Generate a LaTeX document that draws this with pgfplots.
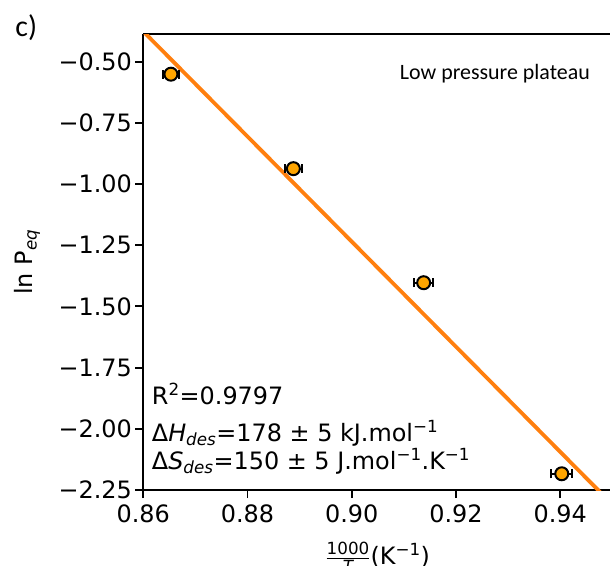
\documentclass[border=0pt]{standalone}
\usepackage{fontspec}
\usepackage{amsmath}
\usepackage{pgfplots}
\pgfplotsset{compat=1.18}
\setmainfont{DejaVu Sans}
\newfontfamily\carlito{Carlito}
\definecolor{fitorange}{HTML}{FF7F0E}
\definecolor{ptorange}{HTML}{FFA500}
\pgfplotstableread{
x y ex
0.8653 -0.5510 0.0015
0.8888 -0.9370 0.0016
0.9138 -1.4030 0.00186
0.9403 -2.1837 0.0020
}\pts
\begin{document}
\begin{tikzpicture}
\begin{axis}[
  at={(0,0)}, anchor=south west, scale only axis,
  width=469bp, height=455.7bp,
  xmin=0.86, xmax=0.95, ymin=-2.25, ymax=-0.388,
  axis x line*=box, axis y line*=left,
  xtick={0.86,0.88,0.90,0.92,0.94},
  xticklabels={0.86,0.88,0.90,0.92,0.94},
  ytick={-2.25,-2,-1.75,-1.5,-1.25,-1,-0.75,-0.5},
  yticklabels={−2.25,−2.00,−1.75,−1.50,−1.25,−1.00,−0.75,−0.50},
  xtick pos=bottom, ytick pos=left, tick align=outside,
  major tick length=8bp,
  every tick/.style={black, line width=1.9bp},
  axis line style={black, line width=1.9bp},
  ticklabel style={font=\fontsize{24}{28}\selectfont},
  xticklabel style={yshift=-3.5bp},
  xlabel={$\tfrac{\text{1000}}{\text{\itshape T}}$(K\textsuperscript{−1})},
  ylabel={ln P\textsubscript{\textit{eq}}},
  every axis x label/.style={at={(rel axis cs:0.5,0)}, yshift=-67.5bp, anchor=center, inner sep=0pt, font=\fontsize{24}{28}\selectfont},
  every axis y label/.style={at={(rel axis cs:-0.2473,0.5)}, rotate=90, anchor=center, inner sep=0pt, font=\fontsize{24}{28}\selectfont},
]
\addplot[fitorange, line width=3.8bp] coordinates {(0.855,-0.2689) (0.955,-2.416)};
\addplot[only marks, mark=*, mark size=6.5bp,
  mark options={fill=ptorange, draw=black, line width=2bp},
  error bars/.cd, x dir=both, x explicit,
  error bar style={black, line width=2bp},
  error mark options={black, line width=2bp, mark size=4.5bp, rotate=90}]
  table[x=x, y=y, x error=ex] {\pts};
\end{axis}
\node[anchor=base west, inner sep=0pt, font=\carlito\fontsize{30}{34}\selectfont] at (-128bp,453bp) {c)};
\node[anchor=base east, inner sep=0pt, font=\carlito\fontsize{22}{26}\selectfont] at (446.7bp,410.7bp) {Low pressure plateau};
\node[anchor=base west, inner sep=0pt, font=\fontsize{24}{28}\selectfont] at (8.4bp,85.7bp) {R\textsuperscript{2}=0.9797};
\node[anchor=base west, inner sep=0pt, font=\fontsize{24}{28}\selectfont] at (8.4bp,48.3bp) {Δ\textit{H}\textsubscript{\textit{des}}=178 ± 5 kJ.mol\textsuperscript{−1}};
\node[anchor=base west, inner sep=0pt, font=\fontsize{24}{28}\selectfont] at (8.4bp,21bp) {Δ\textit{S}\textsubscript{\textit{des}}=150 ± 5 J.mol\textsuperscript{−1}.K\textsuperscript{−1}};
\pgfresetboundingbox
\path[use as bounding box] (-143.3bp,-76bp) rectangle (466.7bp,490bp);
\end{tikzpicture}
\end{document}
